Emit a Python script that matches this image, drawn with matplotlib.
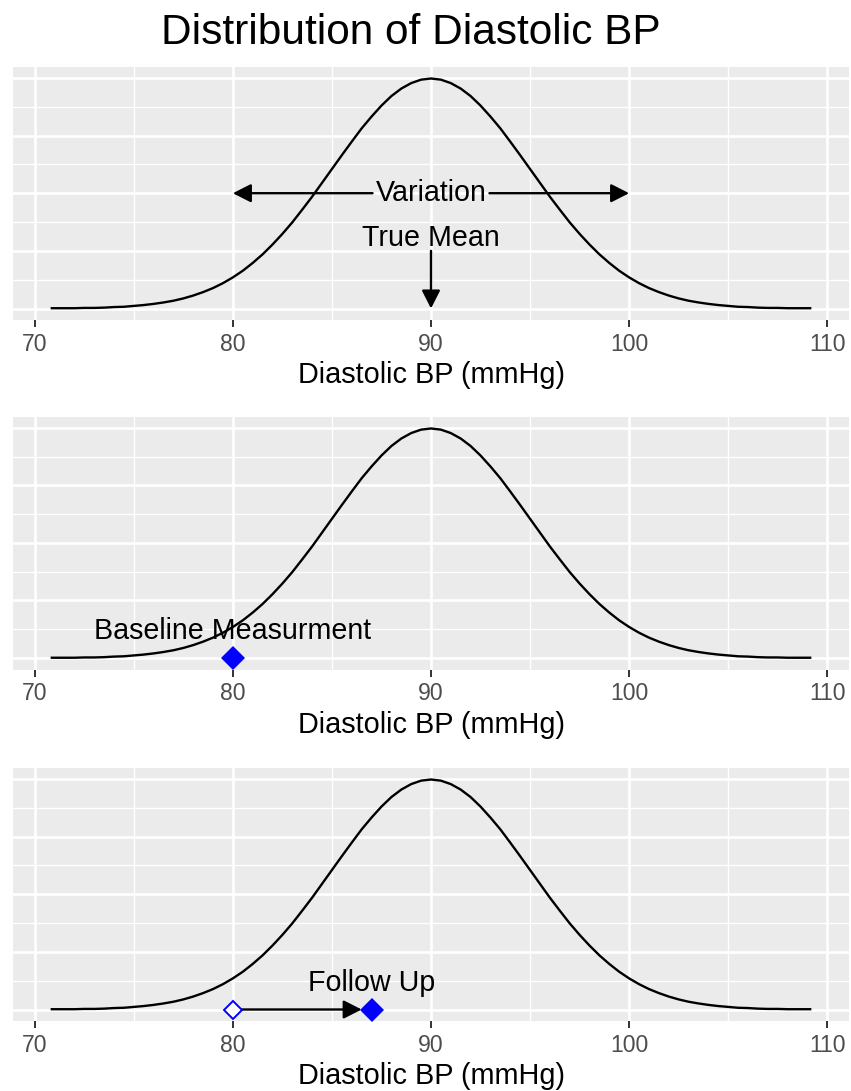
import matplotlib
matplotlib.use("Agg")
import matplotlib.pyplot as plt
import numpy as np

plt.rcParams['font.family'] = ['Liberation Sans', 'DejaVu Sans']

# ---- data ----
bp_x = [70.8, 71.0, 71.5, 72.0, 72.5, 73.0, 73.5, 74.0, 74.5, 75.0, 75.5, 76.0, 76.5, 77.0, 77.5,
        78.0, 78.5, 79.0, 79.5, 80.0, 80.5, 81.0, 81.5, 82.0, 82.5, 83.0, 83.5, 84.0, 84.5,
        85.0, 85.5, 86.0, 86.5, 87.0, 87.5, 88.0, 88.5, 89.0, 89.5, 90.0, 90.5, 91.0, 91.5,
        92.0, 92.5, 93.0, 93.5, 94.0, 94.5, 95.0, 95.5, 96.0, 96.5, 97.0, 97.5, 98.0, 98.5,
        99.0, 99.5, 100.0, 100.5, 101.0, 101.5, 102.0, 102.5, 103.0, 103.5, 104.0, 104.5,
        105.0, 105.5, 106.0, 106.5, 107.0, 107.5, 108.0, 108.5, 109.0, 109.2]
density = [0.0001, 0.0001, 0.0001, 0.0001, 0.0002, 0.0002, 0.0003, 0.0005, 0.0006, 0.0009,
           0.0012, 0.0016, 0.0021, 0.0027, 0.0035, 0.0045, 0.0057, 0.0071, 0.0088, 0.0108,
           0.0131, 0.0158, 0.0188, 0.0222, 0.0259, 0.0299, 0.0343, 0.0388, 0.0436, 0.0484,
           0.0532, 0.0579, 0.0625, 0.0666, 0.0704, 0.0737, 0.0763, 0.0782, 0.0794, 0.0798,
           0.0794, 0.0782, 0.0763, 0.0737, 0.0704, 0.0666, 0.0625, 0.0579, 0.0532, 0.0484,
           0.0436, 0.0388, 0.0343, 0.0299, 0.0259, 0.0222, 0.0188, 0.0158, 0.0131, 0.0108,
           0.0088, 0.0071, 0.0057, 0.0045, 0.0035, 0.0027, 0.0021, 0.0016, 0.0012, 0.0009,
           0.0006, 0.0005, 0.0003, 0.0002, 0.0002, 0.0001, 0.0001, 0.0001, 0.0001]

x_ticks = [70, 80, 90, 100, 110]
x_tick_labels = ["70", "80", "90", "100", "110"]
x_minor = [75, 85, 95, 105]
y_major = [0.0, 0.02, 0.04, 0.06, 0.08]
y_minor = [0.01, 0.03, 0.05, 0.07]

true_mean = 90
variation_low, variation_high = 80, 100
variation_y = 0.04
true_mean_text_y = 0.0245
true_mean_arrow_top = 0.02
baseline_value = 80
followup_value = 87
followup_arrow_end = 86.5
label_y = 0.0093

title = "Distribution of Diastolic BP"
xlabel = "Diastolic BP (mmHg)"

# ---- style ----
W, H = 851, 1091
DPI = 100
BG = "#EBEBEB"
fig = plt.figure(figsize=(W / DPI, H / DPI), dpi=DPI)

panels_px = [(67, 320), (417, 669.5), (768, 1021)]
left_px, right_px = 13, 849
xlim = (68.9, 111.1)
ylim = (-0.00399, 0.08379)

def px_axes(top, bottom):
    return fig.add_axes([left_px / W, 1 - bottom / H, (right_px - left_px) / W, (bottom - top) / H])

axes = []
for top, bottom in panels_px:
    ax = px_axes(top, bottom)
    ax.set_facecolor(BG)
    for s in ax.spines.values():
        s.set_visible(False)
    ax.set_xlim(*xlim)
    ax.set_ylim(*ylim)
    for v in x_minor:
        ax.axvline(v, color="white", lw=0.95, zorder=0.5)
    for v in y_minor:
        ax.axhline(v, color="white", lw=0.95, zorder=0.5)
    for v in x_ticks:
        ax.axvline(v, color="white", lw=1.9, zorder=0.6)
    for v in y_major:
        ax.axhline(v, color="white", lw=1.9, zorder=0.6)
    ax.set_xticks(x_ticks)
    ax.set_xticklabels(x_tick_labels)
    ax.set_yticks([])
    ax.tick_params(axis='x', length=4.8, width=1.4, color="#333333", labelcolor="#4D4D4D",
                   labelsize=16.6, pad=4.5)
    ax.set_xlabel(xlabel, fontsize=20.8, color="black", labelpad=4)
    ax.plot(bp_x, density, color="black", lw=1.7, zorder=3, solid_capstyle='butt')
    axes.append(ax)

fig.text(411 / W, 1 - 33 / H, title, ha="center", va="center", fontsize=30.5)

text_size = 20.6
arrow_kw = dict(arrowstyle="-|>,head_length=0.55,head_width=0.28", mutation_scale=20,
                color="black", lw=1.7, shrinkA=0, shrinkB=0)

# Panel 1
ax1 = axes[0]
tv = ax1.text(true_mean, variation_y, "Variation", ha="center", va="center", fontsize=text_size, zorder=5)
ax1.text(true_mean, true_mean_text_y, "True Mean", ha="center", va="center", fontsize=text_size, zorder=5)
fig.canvas.draw()
bb = tv.get_window_extent(fig.canvas.get_renderer())
inv = ax1.transData.inverted()
gap = 3
x_left = inv.transform((bb.x0 - gap, 0))[0]
x_right = inv.transform((bb.x1 + gap, 0))[0]
ax1.annotate("", xy=(variation_low, variation_y), xytext=(x_left, variation_y), arrowprops=arrow_kw, zorder=4)
ax1.annotate("", xy=(variation_high, variation_y), xytext=(x_right, variation_y), arrowprops=arrow_kw, zorder=4)
ax1.annotate("", xy=(true_mean, 0.0), xytext=(true_mean, true_mean_arrow_top), arrowprops=arrow_kw, zorder=4)

# Panel 2
ax2 = axes[1]
ax2.text(baseline_value, label_y, "Baseline Measurment", ha="center", va="center", fontsize=text_size, zorder=5)
ax2.plot([baseline_value], [0], marker="D", ms=12.3, color="#0000FF", mew=0, ls="none", zorder=6, clip_on=False)

# Panel 3
ax3 = axes[2]
ax3.text(followup_value, label_y, "Follow Up", ha="center", va="center", fontsize=text_size, zorder=5)
ax3.annotate("", xy=(followup_arrow_end, 0), xytext=(baseline_value, 0), arrowprops=arrow_kw, zorder=4)
ax3.plot([baseline_value], [0], marker="D", ms=9.3, mfc="white", mec="#0000FF", mew=1.4, ls="none", zorder=6, clip_on=False)
ax3.plot([followup_value], [0], marker="D", ms=12.3, color="#0000FF", mew=0, ls="none", zorder=6, clip_on=False)

fig.savefig("out.png", dpi=DPI)
